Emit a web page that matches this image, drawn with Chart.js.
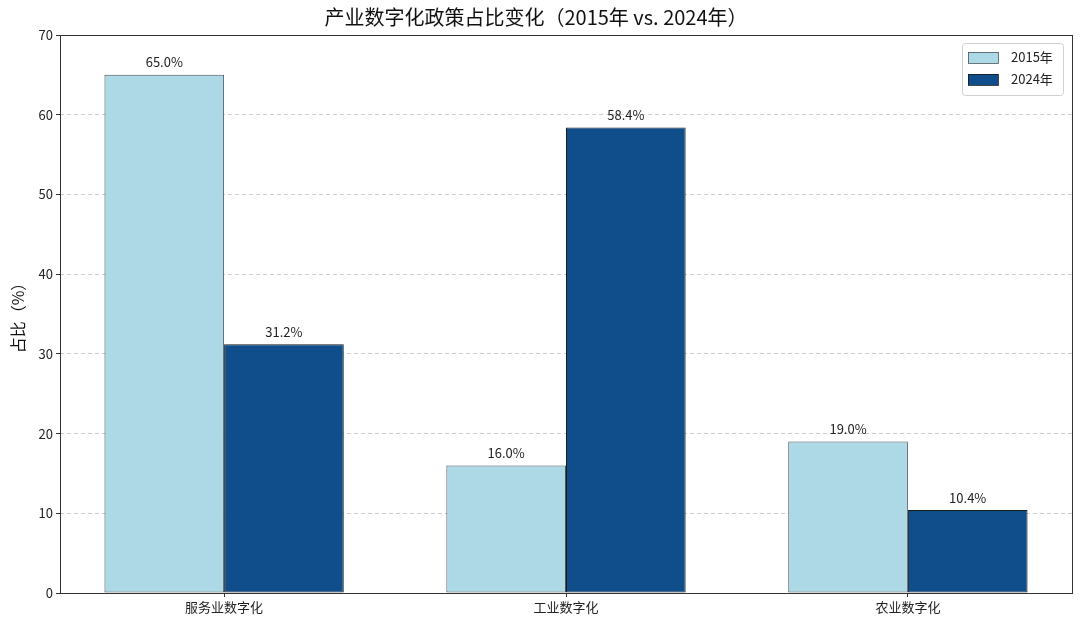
<!DOCTYPE html>
<html>
<head>
<meta charset="utf-8">
<script src="https://cdn.jsdelivr.net/npm/chart.js@4/dist/chart.umd.min.js"></script>
<style>
  html, body { margin: 0; padding: 0; background: #fff; }
  #wrap { width: 1080px; height: 627px; }
</style>
</head>
<body>
<div id="wrap"><canvas id="chart"></canvas></div>
<script>
const categories = ['服务业数字化', '工业数字化', '农业数字化']
const series2015 = [65.0, 16.0, 19.0]
const series2024 = [31.2, 58.4, 10.4]
const seriesNames = ['2015年', '2024年']
const yTicks = [0, 10, 20, 30, 40, 50, 60, 70]

const FONT = '"Noto Sans CJK SC", "Noto Sans", sans-serif'

// bars sit on a numeric x axis (0,1,2) so the side margins match matplotlib
const toPoints = (arr) => arr.map((v, i) => ({ x: i, y: v }))

// value labels above the bars
const barLabels = {
  id: 'barLabels',
  afterDatasetsDraw(chart) {
    const ctx = chart.ctx
    ctx.save()
    ctx.font = '13px ' + FONT
    ctx.fillStyle = '#222'
    ctx.textAlign = 'center'
    ctx.textBaseline = 'bottom'
    chart.data.datasets.forEach((ds, i) => {
      chart.getDatasetMeta(i).data.forEach((bar, j) => {
        ctx.fillText(ds.data[j].y.toFixed(1) + '%', bar.x, bar.y - 6)
      })
    })
    ctx.restore()
  }
}

// full frame around the plot + legend box in the top-right corner
const frameAndLegend = {
  id: 'frameAndLegend',
  afterDraw(chart) {
    const ctx = chart.ctx
    const a = chart.chartArea
    ctx.save()
    ctx.strokeStyle = '#333'
    ctx.lineWidth = 1
    ctx.strokeRect(Math.round(a.left) + 0.5, Math.round(a.top) + 0.5, Math.round(a.right - a.left), Math.round(a.bottom - a.top))

    const bx = a.right - 110, by = a.top + 8, bw = 101, bh = 52
    ctx.fillStyle = 'rgba(255,255,255,0.8)'
    ctx.strokeStyle = '#d0d0d0'
    ctx.beginPath()
    ctx.roundRect(bx + 0.5, by + 0.5, bw, bh, 3)
    ctx.fill()
    ctx.stroke()

    ctx.font = '13px ' + FONT
    ctx.textBaseline = 'middle'
    ctx.textAlign = 'left'
    chart.data.datasets.forEach((ds, i) => {
      const y = by + 14 + i * 22
      ctx.fillStyle = ds.backgroundColor
      ctx.fillRect(bx + 6, y - 5, 30, 11)
      ctx.strokeStyle = ds.borderColor
      ctx.lineWidth = 0.8
      ctx.strokeRect(bx + 6.5, y - 4.5, 30, 11)
      ctx.fillStyle = '#222'
      ctx.fillText(ds.label, bx + 49, y)
    })
    ctx.restore()
  }
}

new Chart(document.getElementById('chart'), {
  type: 'bar',
  data: {
    datasets: [
      {
        label: seriesNames[0],
        data: toPoints(series2015),
        backgroundColor: '#add8e6',
        borderColor: '#4a545a',
        borderWidth: 1,
        borderSkipped: false
      },
      {
        label: seriesNames[1],
        data: toPoints(series2024),
        backgroundColor: '#104e8b',
        borderColor: '#1a1a1a',
        borderWidth: 1,
        borderSkipped: false
      }
    ]
  },
  options: {
    responsive: true,
    maintainAspectRatio: false,
    animation: false,
    devicePixelRatio: 1,
    layout: { padding: { left: 0, right: 8, top: 0, bottom: 0 } },
    datasets: { bar: { categoryPercentage: 0.7, barPercentage: 1.0 } },
    plugins: {
      legend: { display: false },
      tooltip: { enabled: false },
      title: {
        display: true,
        text: '产业数字化政策占比变化（2015年 vs. 2024年）',
        font: { family: FONT, size: 20, weight: 'normal' },
        color: '#111',
        padding: { top: 5, bottom: 6 }
      }
    },
    scales: {
      x: {
        type: 'linear',
        min: -0.48,
        max: 2.48,
        offset: false,
        afterBuildTicks(scale) { scale.ticks = categories.map((c, i) => ({ value: i })) },
        grid: { display: true, offset: false, drawOnChartArea: false, drawTicks: true, tickLength: 4, color: '#333' },
        border: { display: false },
        ticks: {
          color: '#222',
          font: { family: FONT, size: 13 },
          padding: 2,
          callback: (v) => categories[v]
        },
        afterFit(scale) { scale.height = 34 }
      },
      y: {
        min: 0,
        max: 70,
        afterBuildTicks(scale) { scale.ticks = yTicks.map(v => ({ value: v })) },
        grid: {
          color: '#cccccc',
          tickLength: 4,
          tickColor: '#333',
          tickBorderDash: [],
          tickBorderDashOffset: 0
        },
        border: { display: false, dash: [4, 3] },
        ticks: { color: '#222', font: { family: FONT, size: 13 }, padding: 3 },
        title: {
          display: true,
          text: '占比（%）',
          font: { family: FONT, size: 16 },
          color: '#111',
          padding: { top: 8, bottom: 0 }
        },
        afterFit(scale) { scale.width = 60 }
      }
    }
  },
  plugins: [barLabels, frameAndLegend]
})
</script>
</body>
</html>
